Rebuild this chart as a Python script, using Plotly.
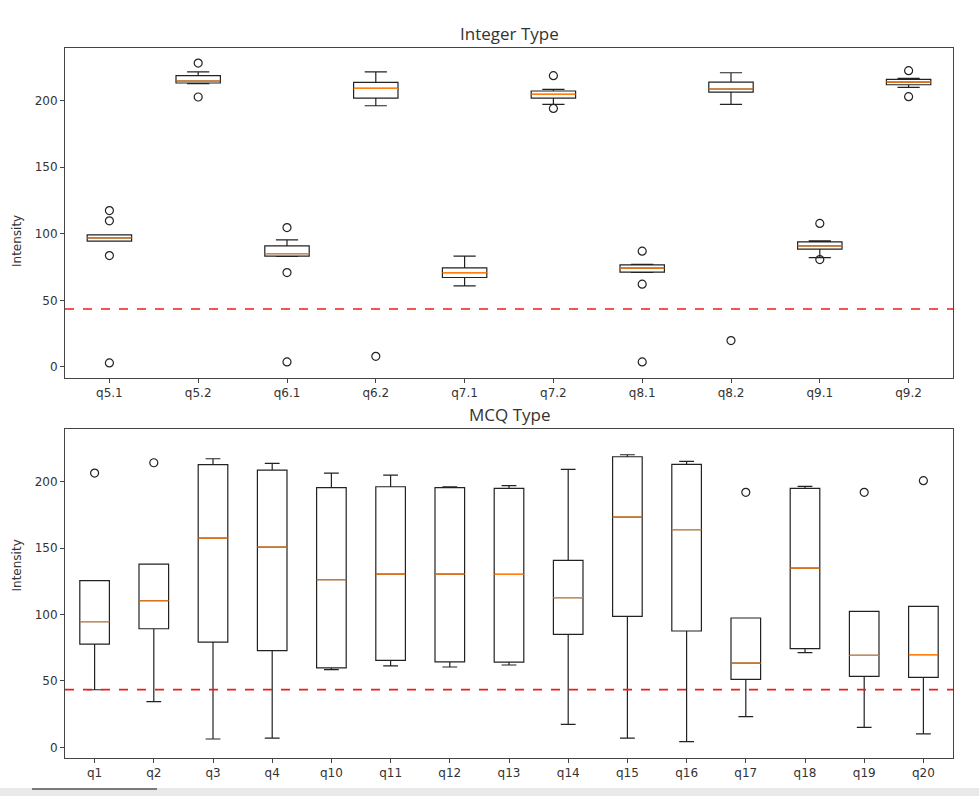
import plotly.graph_objects as go
from plotly.subplots import make_subplots

# ---------------- data ----------------
int_cats = ["q5.1", "q5.2", "q6.1", "q6.2", "q7.1", "q7.2", "q8.1", "q8.2", "q9.1", "q9.2"]
int_q1 = [94.5, 213.3, 83.2, 202.0, 67.2, 202.0, 71.2, 206.5, 88.5, 212.0]
int_median = [97.0, 214.8, 85.2, 209.3, 70.9, 204.8, 74.2, 208.8, 91.0, 214.0]
int_q3 = [99.2, 218.8, 91.0, 213.8, 74.4, 207.3, 76.7, 214.0, 94.0, 216.0]
int_low = [94.5, 212.8, 83.0, 196.2, 60.9, 197.2, 71.0, 197.2, 82.2, 210.0]
int_high = [99.2, 221.6, 95.5, 221.6, 83.2, 208.5, 77.0, 221.0, 94.7, 216.8]
int_out_cat = ["q5.1", "q5.1", "q5.1", "q5.1", "q5.2", "q5.2", "q6.1", "q6.1", "q6.1",
               "q6.2", "q7.2", "q7.2", "q8.1", "q8.1", "q8.1", "q8.2", "q9.1", "q9.1",
               "q9.2", "q9.2"]
int_out_val = [117.5, 109.8, 83.7, 3.0, 228.3, 202.8, 104.7, 70.9, 3.8,
               8.0, 218.8, 194.2, 87.0, 62.2, 3.8, 19.8, 107.8, 80.7,
               222.6, 203.0]

mcq_cats = ["q1", "q2", "q3", "q4", "q10", "q11", "q12", "q13", "q14", "q15",
            "q16", "q17", "q18", "q19", "q20"]
mcq_q1 = [77.8, 89.3, 79.3, 72.8, 59.8, 65.5, 64.3, 64.2, 85.0, 98.6, 87.6, 51.2, 74.3, 53.4, 52.7]
mcq_median = [94.6, 110.4, 157.6, 150.8, 126.2, 130.5, 130.5, 130.2, 112.7, 173.4, 163.9, 63.5, 135.0, 69.3, 69.8]
mcq_q3 = [125.5, 138.0, 212.8, 208.8, 195.5, 196.2, 195.5, 195.0, 140.8, 218.8, 213.0, 97.4, 195.0, 102.4, 106.1]
mcq_low = [43.4, 34.4, 6.3, 7.0, 58.5, 61.3, 60.5, 62.0, 17.3, 7.0, 4.3, 23.1, 71.3, 15.1, 10.1]
mcq_high = [125.5, 138.0, 217.3, 213.8, 206.5, 205.0, 196.2, 197.0, 209.3, 220.3, 215.3, 97.4, 196.5, 102.4, 106.1]
mcq_out_cat = ["q1", "q2", "q17", "q19", "q20"]
mcq_out_val = [206.5, 214.3, 192.0, 192.0, 200.8]

threshold = 43.5
y_ticks = [0, 50, 100, 150, 200]

# ---------------- figure ----------------
fig = make_subplots(rows=2, cols=1, vertical_spacing=0.0)

def add_panel(row, cats, q1, med, q3, low, high, oc, ov):
    fig.add_trace(go.Box(
        x=cats, q1=q1, median=med, q3=q3, lowerfence=low, upperfence=high,
        boxpoints=False, width=0.5, whiskerwidth=0.5,
        line=dict(color="#222222", width=1.2), fillcolor="rgba(255,255,255,0)",
        showlegend=False, hoverinfo="skip"), row=row, col=1)
    fig.add_trace(go.Box(
        x=cats, q1=med, median=med, q3=med, lowerfence=med, upperfence=med,
        boxpoints=False, width=0.5, whiskerwidth=0,
        line=dict(color="#ff7f0e", width=1.2), fillcolor="rgba(0,0,0,0)",
        showlegend=False, hoverinfo="skip"), row=row, col=1)
    fig.add_trace(go.Scatter(
        x=oc, y=ov, mode="markers",
        marker=dict(symbol="circle-open", size=8, color="#222222", line=dict(width=1.2)),
        showlegend=False, hoverinfo="skip"), row=row, col=1)
    fig.add_hline(y=threshold, line=dict(color="#ee1c1c", width=1.6, dash="dash"),
                  row=row, col=1)

add_panel(1, int_cats, int_q1, int_median, int_q3, int_low, int_high, int_out_cat, int_out_val)
add_panel(2, mcq_cats, mcq_q1, mcq_median, mcq_q3, mcq_low, mcq_high, mcq_out_cat, mcq_out_val)

axis_style = dict(showline=True, mirror=True, linecolor="#444444", linewidth=1,
                  ticks="outside", ticklen=4, tickcolor="#444444", showgrid=False,
                  zeroline=False, tickfont=dict(family="DejaVu Sans", size=12, color="#333333"))

fig.update_xaxes(**axis_style)
fig.update_yaxes(**axis_style)
fig.update_xaxes(range=[-0.5, len(int_cats) - 0.5], row=1, col=1)
fig.update_xaxes(range=[-0.5, len(mcq_cats) - 0.5], row=2, col=1)
fig.update_yaxes(range=[-8.3, 239.6], tickvals=y_ticks, row=1, col=1)
fig.update_yaxes(range=[-8.0, 239.7], tickvals=y_ticks, row=2, col=1)

fig.update_layout(
    width=979, height=796,
    margin=dict(l=65, r=26, t=48, b=38),
    plot_bgcolor="white", paper_bgcolor="white",
    boxmode="overlay",
    xaxis=dict(domain=[0, 1]), yaxis=dict(domain=[0.5352, 1.0]),
    xaxis2=dict(domain=[0, 1]), yaxis2=dict(domain=[0.0, 0.4634]),
    font=dict(family="DejaVu Sans", color="#333333"),
)

title_font = dict(family="Open Sans", size=17, color="#333333")
fig.add_annotation(text="Integer Type", xref="paper", yref="paper", x=0.5, y=1.0,
                   yanchor="bottom", yshift=1, showarrow=False, font=title_font)
fig.add_annotation(text="MCQ Type", xref="paper", yref="paper", x=0.5, y=0.4634,
                   yanchor="bottom", yshift=1, showarrow=False, font=title_font)
for yc in [(0.5352 + 1.0) / 2, 0.4634 / 2]:
    fig.add_annotation(text="Intensity", xref="paper", yref="paper", x=0, xshift=-57,
                       y=yc, textangle=-90, showarrow=False,
                       font=dict(family="DejaVu Sans", size=12, color="#333333"))

# screenshot scrollbar band at the bottom
fig.add_shape(type="rect", xref="paper", yref="paper", x0=-65/888, x1=1 + 26/888,
              y0=-38/710, y1=-30/710, fillcolor="#e9e9e9", line=dict(width=0), layer="below")
fig.add_shape(type="line", xref="paper", yref="paper", x0=(32 - 65)/888, x1=(157 - 65)/888,
              y0=-31/710, y1=-31/710, line=dict(color="#555555", width=1.5))

fig.write_html("out.html")
